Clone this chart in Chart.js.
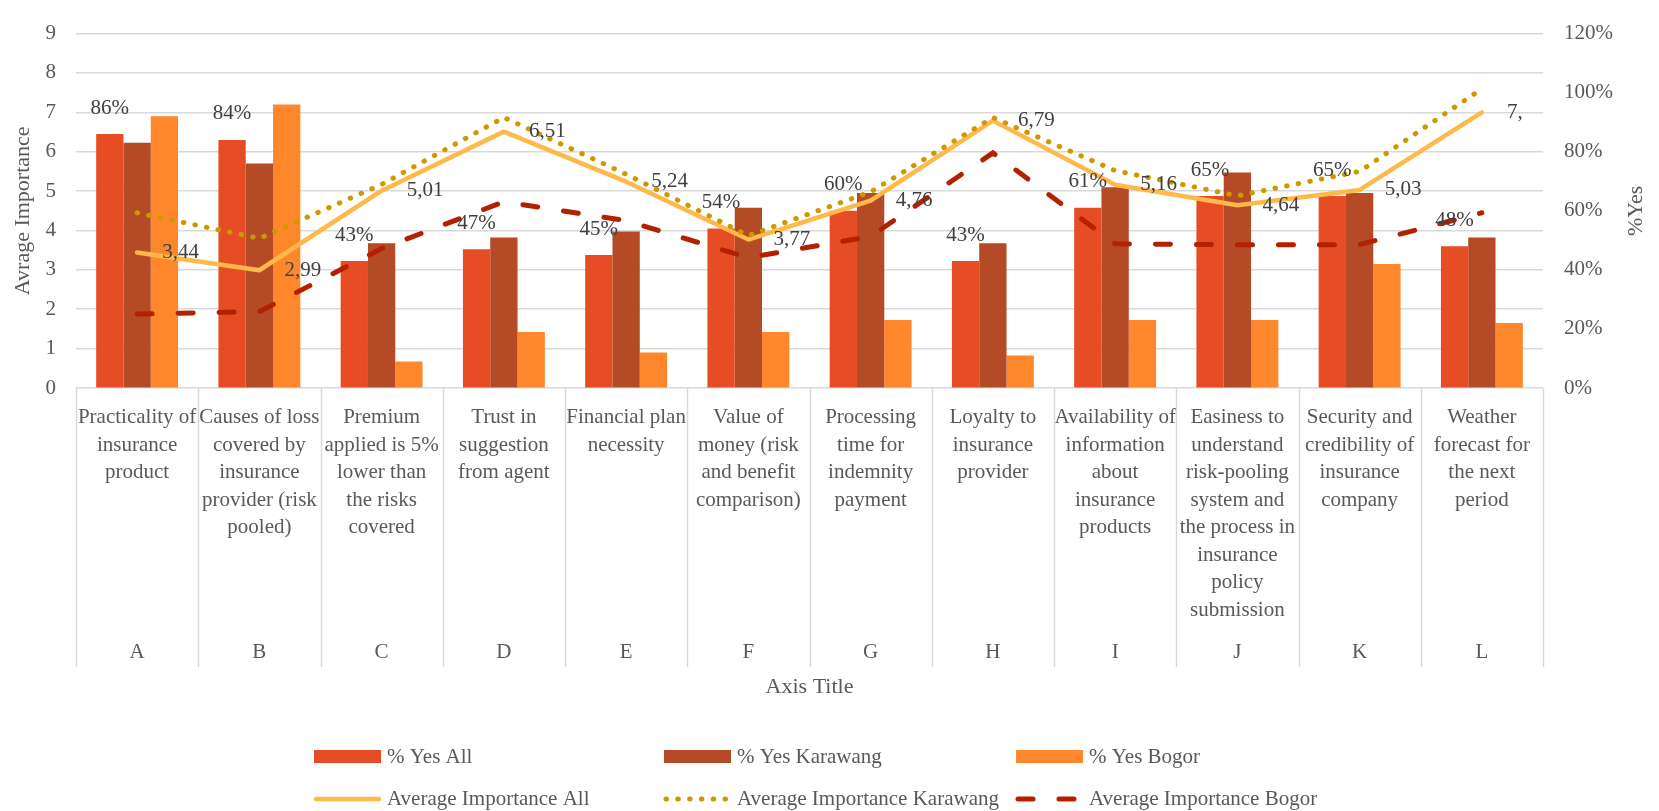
<!DOCTYPE html>
<html>
<head>
<meta charset="utf-8">
<title>Insurance factors: % Yes and average importance</title>
<script src="https://cdn.jsdelivr.net/npm/chart.js@4/dist/chart.umd.min.js"></script>
<style>
  html, body { margin: 0; padding: 0; background: #ffffff; }
  canvas { display: block; }
</style>
</head>
<body>
<canvas id="chart" width="1659" height="811"></canvas>
<script>
// Factor codes and their descriptions (one array entry per label line)
const factorCodes = ['A', 'B', 'C', 'D', 'E', 'F', 'G', 'H', 'I', 'J', 'K', 'L'];
const factorNames = [
  ['Practicality of', 'insurance', 'product'],
  ['Causes of loss', 'covered by', 'insurance', 'provider (risk', 'pooled)'],
  ['Premium', 'applied is 5%', 'lower than', 'the risks', 'covered'],
  ['Trust in', 'suggestion', 'from agent'],
  ['Financial plan', 'necessity'],
  ['Value of', 'money (risk', 'and benefit', 'comparison)'],
  ['Processing', 'time for', 'indemnity', 'payment'],
  ['Loyalty to', 'insurance', 'provider'],
  ['Availability of', 'information', 'about', 'insurance', 'products'],
  ['Easiness to', 'understand', 'risk-pooling', 'system and', 'the process in', 'insurance', 'policy', 'submission'],
  ['Security and', 'credibility of', 'insurance', 'company'],
  ['Weather', 'forecast for', 'the next', 'period']
];

// Share of respondents answering "yes" (%)
const yesAll      = [86, 84, 43, 47, 45, 54, 60, 43, 61, 65, 65, 48];
const yesKarawang = [83, 76, 49, 51, 53, 61, 66, 49, 68, 73, 66, 51];
const yesBogor    = [92, 96,  9, 19, 12, 19, 23, 11, 23, 23, 42, 22];

// Average importance score (0-9)
const importanceAll      = [3.44, 2.99, 5.01, 6.51, 5.24, 3.77, 4.76, 6.79, 5.16, 4.64, 5.03, 7.00];
const importanceKarawang = [4.45, 3.80, 5.17, 6.87, 5.43, 3.87, 4.98, 6.87, 5.52, 4.88, 5.50, 7.60];
const importanceBogor    = [1.88, 1.94, 3.54, 4.73, 4.25, 3.31, 3.85, 5.97, 3.66, 3.64, 3.64, 4.45];

// Axis ranges
const importanceRange = { min: 0, max: 9, step: 1 };
const yesRange = { min: 0, max: 120, step: 20 };

const FONT = "'Liberation Serif', 'Times New Roman', serif";
const TEXT = '#595959';
const LABEL = '#404040';
const GRID = '#D9D9D9';

Chart.defaults.font.family = FONT;
Chart.defaults.color = TEXT;

const fmtComma = v => v.toFixed(2).replace('.', ',');

// Value labels: percentages above the "% Yes All" bars and scores to the right of the "Average Importance All" line
const valueLabels = {
  id: 'valueLabels',
  afterDatasetsDraw(chart) {
    const { ctx, chartArea } = chart;
    ctx.save();
    ctx.font = '21px ' + FONT;
    ctx.fillStyle = LABEL;

    const barMeta = chart.getDatasetMeta(0);
    ctx.textAlign = 'center';
    ctx.textBaseline = 'middle';
    barMeta.data.forEach((bar, i) => {
      ctx.fillText(Math.round(chart.data.datasets[0].data[i]) + '%', bar.x, bar.y - 26);
    });

    const lineMeta = chart.getDatasetMeta(3);
    ctx.beginPath();
    ctx.rect(0, 0, chartArea.right - 21, chart.height);
    ctx.clip();
    ctx.textAlign = 'left';
    lineMeta.data.forEach((pt, i) => {
      ctx.fillText(fmtComma(chart.data.datasets[3].data[i]), pt.x + 25, pt.y);
    });
    ctx.restore();
  }
};

// Vertical separators between the category label cells
const categorySeparators = {
  id: 'categorySeparators',
  afterDraw(chart) {
    const { ctx, chartArea, scales } = chart;
    const x = scales.x;
    const n = factorCodes.length;
    const w = (chartArea.right - chartArea.left) / n;
    const bottom = scales.x2.top + 35;
    ctx.save();
    ctx.strokeStyle = GRID;
    ctx.lineWidth = 1.5;
    for (let i = 0; i <= n; i++) {
      const px = Math.round((i < n ? x.getPixelForValue(i) - w / 2 : x.getPixelForValue(n - 1) + w / 2)) + 0.5;
      ctx.beginPath();
      ctx.moveTo(px, chartArea.bottom);
      ctx.lineTo(px, bottom);
      ctx.stroke();
    }
    ctx.restore();
  }
};

// Secondary axis title, read bottom to top
const rightAxisTitle = {
  id: 'rightAxisTitle',
  afterDraw(chart) {
    const { ctx, chartArea } = chart;
    const s = chart.scales.y1;
    ctx.save();
    ctx.translate(s.right - 23, (chartArea.top + chartArea.bottom) / 2);
    ctx.rotate(-Math.PI / 2);
    ctx.font = '22px ' + FONT;
    ctx.fillStyle = TEXT;
    ctx.textAlign = 'center';
    ctx.textBaseline = 'middle';
    ctx.fillText('%Yes', 0, 0);
    ctx.restore();
  }
};

// Legend laid out as a 3-column grid below the axis title
const gridLegend = {
  id: 'gridLegend',
  afterDraw(chart) {
    const { ctx } = chart;
    const colX = [314, 664, 1016];
    const rowY = [757, 799];
    const sampleW = 67;
    ctx.save();
    ctx.font = '21px ' + FONT;
    ctx.textBaseline = 'middle';
    ctx.textAlign = 'left';
    chart.data.datasets.forEach((ds, i) => {
      const x = colX[i % 3];
      const y = rowY[Math.floor(i / 3)];
      if (ds.type === 'line') {
        ctx.strokeStyle = ds.borderColor;
        ctx.lineWidth = ds.borderWidth;
        ctx.lineCap = ds.borderCapStyle || 'butt';
        ctx.setLineDash(ds.borderDash || []);
        ctx.beginPath();
        ctx.moveTo(x + 2, y);
        ctx.lineTo(x + sampleW - 2, y);
        ctx.stroke();
        ctx.setLineDash([]);
      } else {
        ctx.fillStyle = ds.backgroundColor;
        ctx.fillRect(x, y - 7, sampleW, 13);
      }
      ctx.fillStyle = TEXT;
      ctx.fillText(ds.label, x + sampleW + 6, y);
    });
    ctx.restore();
  }
};

const barCommon = { type: 'bar', yAxisID: 'y1', categoryPercentage: 0.67, barPercentage: 1.0, borderWidth: 0, order: 4 };

new Chart(document.getElementById('chart'), {
  type: 'bar',
  data: {
    labels: factorNames,
    datasets: [
      { ...barCommon, label: '% Yes All', data: yesAll, backgroundColor: '#E64D25' },
      { ...barCommon, label: '% Yes Karawang', data: yesKarawang, backgroundColor: '#B54A27' },
      { ...barCommon, label: '% Yes Bogor', data: yesBogor, backgroundColor: '#FE872B' },
      { type: 'line', label: 'Average Importance All', data: importanceAll, yAxisID: 'y',
        borderColor: '#FFB94A', borderWidth: 4.5, borderJoinStyle: 'round', borderCapStyle: 'round',
        pointRadius: 0, tension: 0, fill: false, order: 3 },
      { type: 'line', label: 'Average Importance Karawang', data: importanceKarawang, yAxisID: 'y',
        borderColor: '#CC9A00', borderWidth: 5, borderDash: [0.5, 11.3], borderCapStyle: 'round',
        pointRadius: 0, tension: 0, fill: false, order: 2 },
      { type: 'line', label: 'Average Importance Bogor', data: importanceBogor, yAxisID: 'y',
        borderColor: '#B32200', borderWidth: 5, borderDash: [15, 26], borderCapStyle: 'round',
        pointRadius: 0, tension: 0, fill: false, order: 1 }
    ]
  },
  options: {
    responsive: false,
    animation: false,
    devicePixelRatio: 1,
    layout: { padding: { top: 21, bottom: 100, left: 0, right: 0 } },
    plugins: { legend: { display: false }, tooltip: { enabled: false } },
    scales: {
      x: {
        type: 'category',
        offset: true,
        weight: 0,
        grid: { display: false, drawTicks: false },
        border: { display: false },
        ticks: { autoSkip: false, maxRotation: 0, minRotation: 0, padding: 16,
                 color: TEXT, font: { size: 21, lineHeight: 1.31 } },
        afterFit(s) { s.height = 244; }
      },
      x2: {
        type: 'category',
        position: 'bottom',
        labels: factorCodes,
        offset: true,
        weight: 1,
        grid: { display: false, drawTicks: false },
        border: { display: false },
        ticks: { autoSkip: false, maxRotation: 0, minRotation: 0, padding: 8,
                 color: TEXT, font: { size: 21 } },
        title: { display: true, text: 'Axis Title', color: TEXT, font: { size: 22 }, padding: { top: 0, bottom: 11 } },
        afterFit(s) { s.height = 79; }
      },
      y: {
        position: 'left',
        min: importanceRange.min,
        max: importanceRange.max,
        ticks: { stepSize: importanceRange.step, padding: 20, color: TEXT, font: { size: 21 } },
        grid: { color: GRID, lineWidth: 1.5, drawTicks: false },
        border: { display: false },
        title: { display: true, text: 'Avrage Importance', color: TEXT, font: { size: 22 }, padding: { top: 10, bottom: 0 } },
        afterFit(s) { s.width = 76; }
      },
      y1: {
        position: 'right',
        min: yesRange.min,
        max: yesRange.max,
        ticks: { stepSize: yesRange.step, padding: 21, color: TEXT, font: { size: 21 },
                 callback: v => v + '%' },
        grid: { drawOnChartArea: false, drawTicks: false },
        border: { display: false },
        afterFit(s) { s.width = 116; }
      }
    }
  },
  plugins: [valueLabels, categorySeparators, rightAxisTitle, gridLegend]
});
</script>
</body>
</html>
